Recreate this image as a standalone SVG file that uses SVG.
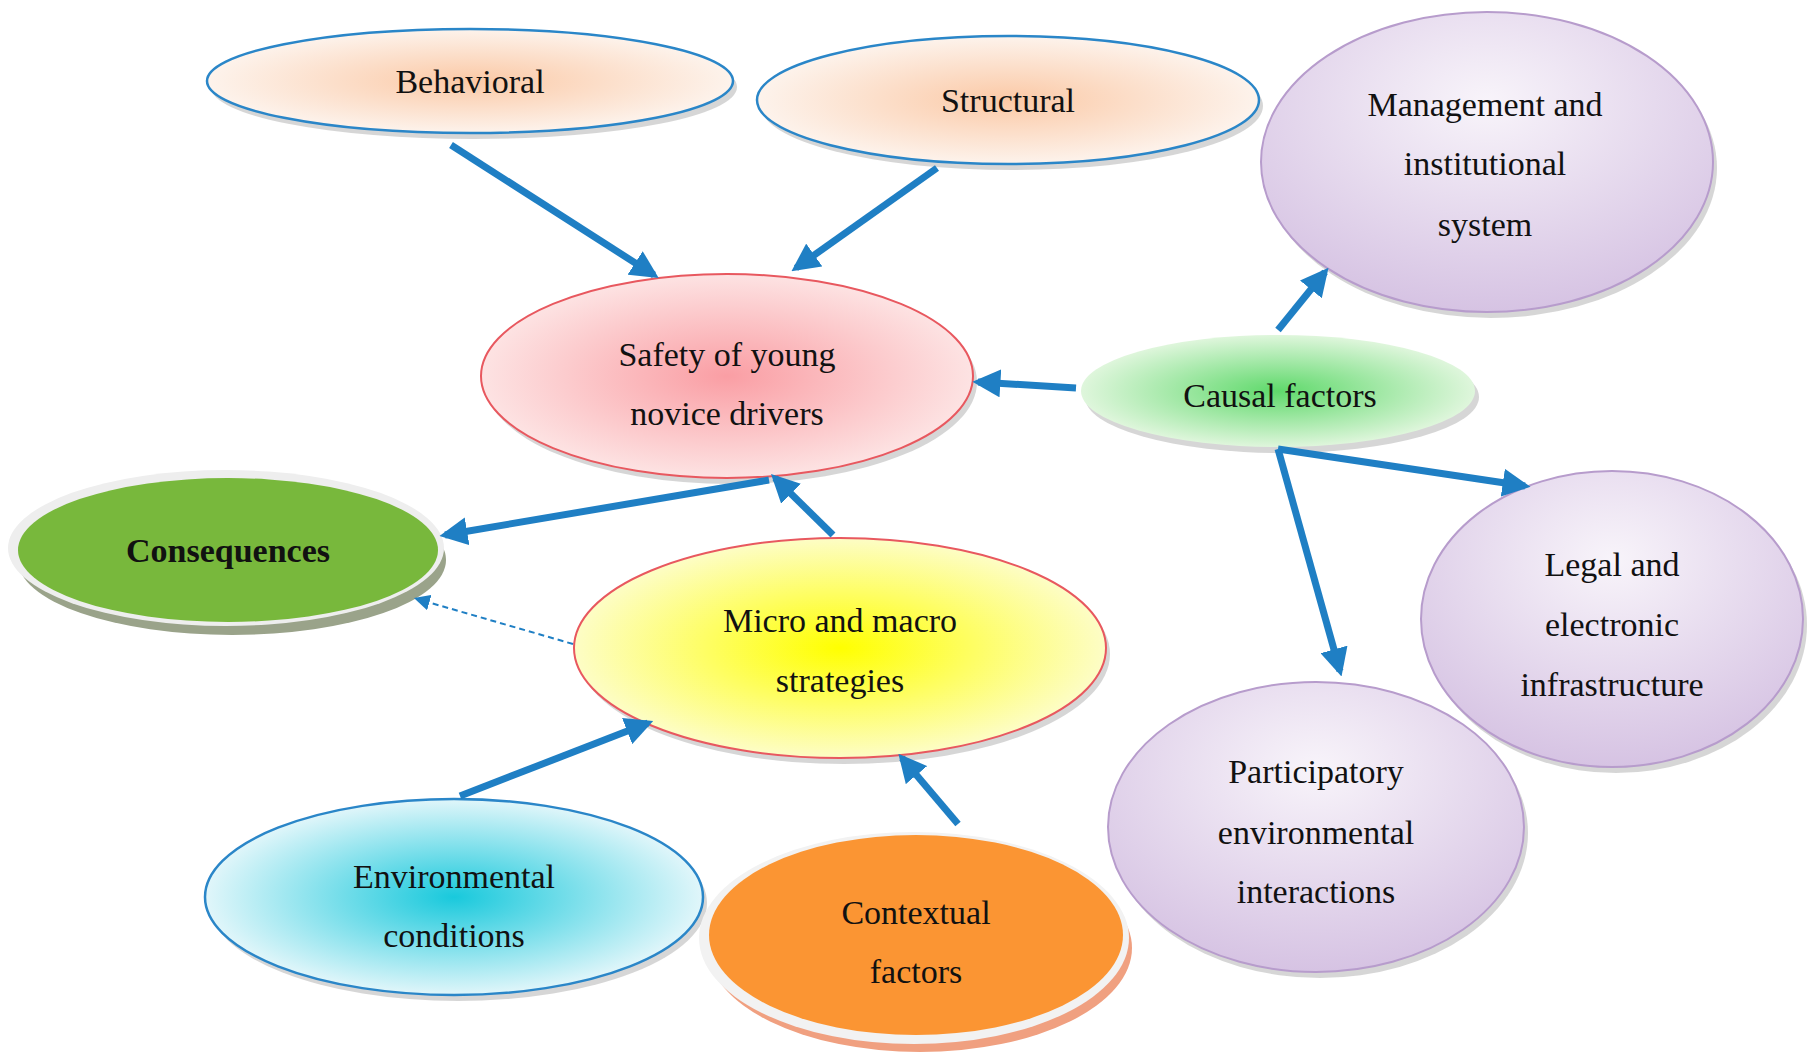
<svg xmlns="http://www.w3.org/2000/svg" width="1814" height="1063" viewBox="0 0 1814 1063">
<style>
text{font-family:"Liberation Serif","DejaVu Serif",serif;font-size:34px;text-anchor:middle;fill:#111}
.a{stroke:#1f7fc4;stroke-width:7;fill:none;marker-end:url(#ah)}
.sh{fill:#bbb;opacity:0.6}
</style>
<defs>
<marker id="ah" viewBox="0 0 10 10" refX="8" refY="5" markerWidth="4" markerHeight="4" orient="auto"><path d="M0,0L10,5L0,10z" fill="#1f7fc4"/></marker>
<marker id="ah2" viewBox="0 0 10 10" refX="8" refY="5" markerWidth="8" markerHeight="8" orient="auto"><path d="M0,0L10,5L0,10z" fill="#1f7fc4"/></marker>
<radialGradient id="peach"><stop offset="0" stop-color="#fbc9a6"/><stop offset="1" stop-color="#fdf3ec"/></radialGradient>
<radialGradient id="purple" cx="0.5" cy="0.3" r="0.7"><stop offset="0" stop-color="#f8f4fa"/><stop offset="1" stop-color="#d6c3e3"/></radialGradient>
<radialGradient id="pink"><stop offset="0" stop-color="#fa9ea4"/><stop offset="1" stop-color="#fde3e3"/></radialGradient>
<radialGradient id="green"><stop offset="0" stop-color="#5fd96b"/><stop offset="1" stop-color="#dff6dc"/></radialGradient>
<radialGradient id="yellow"><stop offset="0" stop-color="#ffff00"/><stop offset="1" stop-color="#fdfdc6"/></radialGradient>
<radialGradient id="cyan"><stop offset="0" stop-color="#19c9dc"/><stop offset="1" stop-color="#e1f6fa"/></radialGradient>
</defs>
<g id="behavioral"><ellipse class="sh" cx="474" cy="87" rx="263" ry="52"/><ellipse cx="470" cy="81" rx="263" ry="52" fill="url(#peach)" stroke="#2a86c8" stroke-width="2.5"/><text x="470" y="93">Behavioral</text></g>
<g id="structural"><ellipse class="sh" cx="1012" cy="106" rx="251" ry="64"/><ellipse cx="1008" cy="100" rx="251" ry="64" fill="url(#peach)" stroke="#2a86c8" stroke-width="2.5"/><text x="1008" y="112">Structural</text></g>
<g id="management"><ellipse class="sh" cx="1491" cy="168" rx="226" ry="150"/><ellipse cx="1487" cy="162" rx="226" ry="150" fill="url(#purple)" stroke="#b79ccc" stroke-width="2"/><text x="1485" y="116">Management and</text><text x="1485" y="175">institutional</text><text x="1485" y="236">system</text></g>
<g id="safety"><ellipse class="sh" cx="731" cy="382" rx="246" ry="102"/><ellipse cx="727" cy="376" rx="246" ry="102" fill="url(#pink)" stroke="#e8585f" stroke-width="2"/><text x="727" y="366">Safety of young</text><text x="727" y="425">novice drivers</text></g>
<g id="causal"><ellipse class="sh" cx="1282" cy="397" rx="197" ry="56"/><ellipse cx="1278" cy="391" rx="197" ry="56" fill="url(#green)"/><text x="1280" y="407">Causal factors</text></g>
<g id="consequences"><ellipse cx="232" cy="560" rx="214" ry="75" fill="#9aa38a"/><ellipse cx="226" cy="548" rx="218" ry="78" fill="#eee"/><ellipse cx="228" cy="550" rx="210" ry="72" fill="#78b83c"/><text x="228" y="562" font-weight="bold">Consequences</text></g>
<g id="micro"><ellipse class="sh" cx="844" cy="654" rx="266" ry="110"/><ellipse cx="840" cy="648" rx="266" ry="110" fill="url(#yellow)" stroke="#e8585f" stroke-width="2"/><text x="840" y="632">Micro and macro</text><text x="840" y="692">strategies</text></g>
<g id="legal"><ellipse class="sh" cx="1616" cy="625" rx="191" ry="148"/><ellipse cx="1612" cy="619" rx="191" ry="148" fill="url(#purple)" stroke="#b79ccc" stroke-width="2"/><text x="1612" y="576">Legal and</text><text x="1612" y="636">electronic</text><text x="1612" y="696">infrastructure</text></g>
<g id="participatory"><ellipse class="sh" cx="1320" cy="833" rx="208" ry="145"/><ellipse cx="1316" cy="827" rx="208" ry="145" fill="url(#purple)" stroke="#b79ccc" stroke-width="2"/><text x="1316" y="783">Participatory</text><text x="1316" y="844">environmental</text><text x="1316" y="903">interactions</text></g>
<g id="environmental"><ellipse class="sh" cx="458" cy="903" rx="249" ry="98"/><ellipse cx="454" cy="897" rx="249" ry="98" fill="url(#cyan)" stroke="#2a86c8" stroke-width="2.5"/><text x="454" y="888">Environmental</text><text x="454" y="947">conditions</text></g>
<g id="contextual"><ellipse cx="920" cy="948" rx="212" ry="104" fill="#f0a080"/><ellipse cx="914" cy="938" rx="215" ry="106" fill="#f2f2f2"/><ellipse cx="916" cy="935" rx="207" ry="100" fill="#fb9533"/><text x="916" y="924">Contextual</text><text x="916" y="983">factors</text></g>
<g id="connectors">
<line class="a" x1="451" y1="145" x2="654" y2="275"/>
<line class="a" x1="937" y1="168" x2="796" y2="268"/>
<line class="a" x1="1076" y1="388" x2="978" y2="382"/>
<line class="a" x1="1278" y1="330" x2="1325" y2="272"/>
<line class="a" x1="1278" y1="449" x2="1525" y2="486"/>
<line class="a" x1="1278" y1="449" x2="1340" y2="671"/>
<line class="a" x1="769" y1="480" x2="445" y2="535"/>
<line class="a" x1="833" y1="535" x2="775" y2="478"/>
<line x1="573" y1="644" x2="417" y2="599" stroke="#1f7fc4" stroke-width="2" stroke-dasharray="6,4" marker-end="url(#ah2)"/>
<line class="a" x1="460" y1="796" x2="648" y2="723"/>
<line class="a" x1="958" y1="824" x2="902" y2="758"/>
</g>
</svg>
